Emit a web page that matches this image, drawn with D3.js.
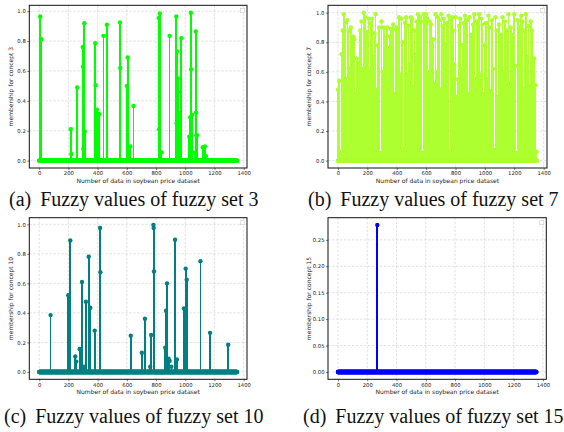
<!DOCTYPE html>
<html lang="en">
<head>
<meta charset="UTF-8">
<title>Fuzzy values</title>
<style>
  body { margin: 0; background: #fff; }
  svg { display: block; }
</style>
</head>
<body>
<svg id="svg" width="564" height="432"></svg>
<script src="https://d3js.org/d3.v7.min.js"></script>
<script>
  // ------ DATA ------------------------
  const N = 1356  // number of samples in the soybean dataset

  // fuzzy set 3: [index, membership] (all other points are 0)
  const set3 = [
    [7, 0.965], [12, 0.815], [15, 0.81], [216, 0.21], [220, 0.045], [260, 0.49],
    [298, 0.76], [300, 0.63], [302, 0.08], [309, 0.92], [312, 0.195],
    [384, 0.785], [386, 0.505], [395, 0.34], [403, 0.31], [412, 0.31],
    [440, 0.835], [463, 0.91], [553, 0.925], [555, 0.62], [600, 0.5],
    [606, 0.69], [624, 0.095], [646, 0.365], [819, 0.955], [821, 0.21],
    [826, 0.985], [838, 0.055], [893, 0.835], [939, 0.965], [941, 0.25],
    [944, 0.73], [948, 0.55], [950, 0.46], [957, 0.32], [962, 0.26],
    [973, 0.82], [1027, 0.16], [1034, 0.29], [1038, 0.99], [1040, 0.61],
    [1047, 0.305], [1068, 0.055], [1072, 0.865], [1074, 0.32], [1076, 0.17],
    [1080, 0.17], [1120, 0.09], [1135, 0.095], [1142, 0.03]
  ]

  // fuzzy set 7: highest reading in each block of 8 samples, starting at 0
  const set7Step = 8
  const set7 = [
    0.48, 0.54, 0.06, 0.72, 0.88, 0.99, 0.93, 0.55, 0.95, 0.88,
    0.62, 0.90, 0.58, 0.84, 0.82, 0.45, 0.69, 0.66, 0.04, 0.88,
    0.94, 0.62, 1.00, 0.97, 0.52, 0.87, 0.96, 0.60, 0.93, 0.96,
    0.70, 0.86, 0.99, 0.48, 0.78, 0.90, 0.05, 0.94, 0.60, 0.90,
    0.83, 0.55, 0.90, 0.76, 0.84, 0.89, 0.62, 0.92, 0.45, 0.89,
    0.90, 0.68, 0.97, 0.58, 0.96, 0.80, 0.08, 0.93, 0.97, 0.58,
    0.91, 0.65, 0.97, 0.96, 0.50, 0.88, 0.72, 0.94, 0.99, 0.45,
    0.97, 0.94, 0.05, 0.99, 0.85, 0.99, 0.96, 0.60, 0.94, 0.92,
    0.70, 0.82, 0.52, 0.99, 0.60, 0.97, 0.95, 0.48, 0.99, 0.91,
    0.96, 0.45, 0.78, 0.93, 0.98, 0.06, 0.95, 0.97, 0.88, 0.65,
    0.97, 0.43, 0.55, 0.91, 0.96, 0.62, 0.78, 0.93, 0.98, 0.62,
    0.95, 0.45, 0.97, 0.85, 0.04, 0.92, 0.99, 0.55, 0.94, 0.88,
    0.99, 0.58, 0.96, 0.92, 0.45, 0.78, 0.93, 0.55, 0.98, 0.90,
    0.47, 0.95, 0.62, 0.07, 0.97, 0.88, 0.43, 0.92, 0.66, 0.85,
    0.97, 0.60, 0.94, 0.48, 0.88, 0.99, 0.52, 0.90, 0.45, 0.85,
    0.99, 0.64, 0.05, 0.95, 0.90, 0.55, 0.98, 0.94, 0.48, 0.88,
    0.99, 0.70, 0.91, 0.50, 0.94, 0.88, 0.58, 0.69, 0.51, 0.06
  ]

  // fuzzy set 10: [index, membership]
  const set10 = [
    [78, 0.385], [199, 0.52], [213, 0.89], [247, 0.105], [254, 0.07],
    [277, 0.155], [293, 0.61], [307, 0.035], [320, 0.475], [339, 0.78],
    [350, 0.435], [380, 0.28], [417, 0.975], [419, 0.675], [627, 0.245],
    [703, 0.13], [724, 0.36], [760, 0.035], [767, 0.25], [782, 0.995],
    [784, 0.975], [786, 0.68], [863, 0.165], [868, 0.415], [875, 0.6],
    [886, 0.09], [893, 0.075], [905, 0.035], [930, 0.895], [943, 0.085],
    [991, 0.43], [1003, 0.70], [1010, 0.625], [1104, 0.75], [1170, 0.265],
    [1294, 0.185]
  ]

  // fuzzy set 15: [index, membership]
  const set15 = [[269, 0.278]]

  const setNames = ['3', '7', '10', '15']
  const letters = ['a', 'b', 'c', 'd']
  const colors = ['#00ff00', '#adff2f', '#008080', '#0000ff']
  const xTicks = [0, 200, 400, 600, 800, 1000, 1200, 1400]
  const yTicksFull = [0, 0.2, 0.4, 0.6, 0.8, 1.0]
  const yTicks15 = [0, 0.05, 0.10, 0.15, 0.20, 0.25]

  // turn the readings into full series of N points
  function fromPairs(pairs) {
    const v = new Array(N).fill(0)
    pairs.forEach(([i, y]) => { v[i] = y })
    return v
  }
  const set7Pairs = set7.map((y, k) => [k * set7Step, y])
  const series = [fromPairs(set3), fromPairs(set7Pairs), fromPairs(set10), fromPairs(set15)]

  // ------ LAYOUT ------------------------
  const frames = [
    { x0: 29.3, x1: 247, y0: 5.3, y1: 168, capX: 9, capY: 206 },
    { x0: 328, x1: 547, y0: 5.3, y1: 168, capX: 308, capY: 206 },
    { x0: 29.3, x1: 247, y0: 217.7, y1: 379.3, capX: 4, capY: 423 },
    { x0: 328, x1: 546.3, y0: 217.7, y1: 379.3, capX: 303, capY: 423 }
  ]

  const svg = d3.select('#svg')
  const sans = 'DejaVu Sans, sans-serif'
  const tickSizePx = 5.3
  const labelSizePx = 6

  series.forEach((values, p) => {
    const f = frames[p]
    const maxV = d3.max(values)
    const pad = maxV * 0.05

    const x = d3.scaleLinear()
      .domain([-(N - 1) * 0.05, (N - 1) * 1.05])
      .range([f.x0, f.x1])
    const y = d3.scaleLinear()
      .domain([-pad, maxV + pad])
      .range([f.y1, f.y0])

    const yTicks = p === 3 ? yTicks15 : yTicksFull
    const yFmt = p === 3 ? d3.format('.2f') : d3.format('.1f')

    const g = svg.append('g')

    // grid
    g.append('g')
      .selectAll('line')
      .data(xTicks)
      .join('line')
      .attr('x1', d => x(d)).attr('x2', d => x(d))
      .attr('y1', f.y0).attr('y2', f.y1)
      .attr('stroke', '#cfcfcf').attr('stroke-width', 0.6)
      .attr('stroke-dasharray', '2.5,1.5')
    g.append('g')
      .selectAll('line')
      .data(yTicks)
      .join('line')
      .attr('x1', f.x0).attr('x2', f.x1)
      .attr('y1', d => y(d)).attr('y2', d => y(d))
      .attr('stroke', '#cfcfcf').attr('stroke-width', 0.6)
      .attr('stroke-dasharray', '2.5,1.5')

    // stems (crisp so the dense ones merge without seams)
    const idx = d3.range(N)
    g.append('g')
      .attr('shape-rendering', 'crispEdges')
      .selectAll('line')
      .data(idx.filter(i => values[i] > 0))
      .join('line')
      .attr('x1', i => x(i)).attr('x2', i => x(i))
      .attr('y1', y(0)).attr('y2', i => y(values[i]))
      .attr('stroke', colors[p]).attr('stroke-width', 1.7)

    // markers (zeros make the thick band at the bottom)
    g.append('g')
      .selectAll('circle')
      .data(idx)
      .join('circle')
      .attr('cx', i => x(i))
      .attr('cy', i => y(values[i]))
      .attr('r', 2.2)
      .attr('fill', colors[p])

    // axes
    const xAxis = d3.axisBottom(x).tickValues(xTicks).tickFormat(d3.format('d')).tickSize(2).tickPadding(1.5)
    const yAxis = d3.axisLeft(y).tickValues(yTicks).tickFormat(yFmt).tickSize(2).tickPadding(1.5)

    g.append('g')
      .attr('transform', `translate(0,${f.y1})`)
      .call(xAxis)
      .call(a => a.select('.domain').remove())
      .call(a => a.selectAll('text').attr('font-size', tickSizePx).attr('font-family', sans).attr('fill', '#222'))
      .call(a => a.selectAll('line').attr('stroke', '#222').attr('stroke-width', 0.6))
    g.append('g')
      .attr('transform', `translate(${f.x0},0)`)
      .call(yAxis)
      .call(a => a.select('.domain').remove())
      .call(a => a.selectAll('text').attr('font-size', tickSizePx).attr('font-family', sans).attr('fill', '#222'))
      .call(a => a.selectAll('line').attr('stroke', '#222').attr('stroke-width', 0.6))

    // frame
    g.append('rect')
      .attr('x', f.x0).attr('y', f.y0)
      .attr('width', f.x1 - f.x0).attr('height', f.y1 - f.y0)
      .attr('fill', 'none').attr('stroke', '#111').attr('stroke-width', 1)

    // empty legend box
    g.append('rect')
      .attr('x', f.x1 - 6.5).attr('y', f.y0 + 3)
      .attr('width', 4).attr('height', 4)
      .attr('fill', '#fff').attr('stroke', '#c8c8c8').attr('stroke-width', 0.6)

    // axis labels
    g.append('text')
      .attr('x', (f.x0 + f.x1) / 2).attr('y', f.y1 + 14.5)
      .attr('text-anchor', 'middle')
      .attr('font-size', labelSizePx).attr('font-family', sans).attr('fill', '#222')
      .text('Number of data in soybean price dataset')
    g.append('text')
      .attr('transform', `translate(${f.x0 - 16.6},${(f.y0 + f.y1) / 2}) rotate(-90)`)
      .attr('text-anchor', 'middle')
      .attr('font-size', labelSizePx).attr('font-family', sans).attr('fill', '#222')
      .text('membership for concept ' + setNames[p])

    // caption
    const cap = g.append('text')
      .attr('x', f.capX).attr('y', f.capY)
      .attr('font-size', 20).attr('font-family', 'Liberation Serif, Times New Roman, serif')
      .attr('fill', '#111')
    cap.append('tspan').text(`(${letters[p]})`)
    cap.append('tspan').attr('dx', 9).text(`Fuzzy values of fuzzy set ${setNames[p]}`)
  })
</script>
</body>
</html>
